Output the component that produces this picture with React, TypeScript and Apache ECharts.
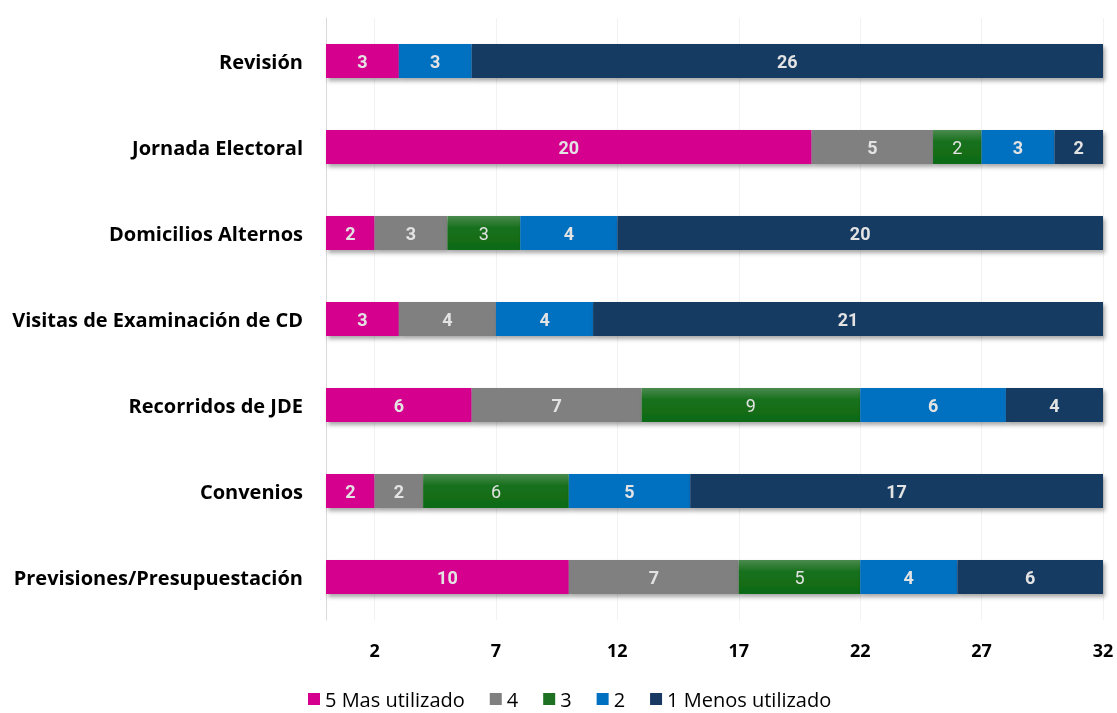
import React, { useEffect, useRef } from "react";
import * as echarts from "echarts";

const categories = [
  "Previsiones/Presupuestación",
  "Convenios",
  "Recorridos de JDE",
  "Visitas de Examinación de CD",
  "Domicilios Alternos",
  "Jornada Electoral",
  "Revisión",
];
const seriesNames = ["5 Mas utilizado", "4", "3", "2", "1 Menos utilizado"];
const s5 = [10, 2, 6, 3, 2, 20, 3];
const s4 = [7, 2, 7, 4, 3, 5, null];
const s3 = [5, 6, 9, null, 3, 2, null];
const s2 = [4, 5, 6, 4, 4, 3, 3];
const s1 = [6, 17, 4, 21, 20, 2, 26];
const tickValues = [2, 7, 12, 17, 22, 27, 32];

const colors = [
  "#D6008F",
  "#808080",
  new echarts.graphic.LinearGradient(0, 0, 0, 1, [
    { offset: 0, color: "#4A8A4E" },
    { offset: 0.35, color: "#17701C" },
    { offset: 1, color: "#0F6A14" },
  ]),
  "#0070C0",
  "#183A62",
];
const legendColors = ["#D6008F", "#808080", "#1E7022", "#0070C0", "#183A62"];

export default function App() {
  const ref = useRef<HTMLDivElement>(null);
  useEffect(() => {
    const chart = echarts.init(ref.current!, null, { renderer: "svg" });
    const data = [s5, s4, s3, s2, s1];
    const bars = data.map((d, i) => ({
      name: seriesNames[i],
      type: "bar",
      stack: "total",
      barWidth: 34,
      z: 3,
      data: d,
      itemStyle: {
        color: colors[i],
        shadowBlur: 4,
        shadowOffsetX: 2,
        shadowOffsetY: 3,
        shadowColor: "rgba(0,0,0,0.35)",
      },
      label: {
        show: true,
        position: "inside",
        color: "#E3E3E3",
        fontFamily: "Roboto",
        fontSize: 18,
        fontWeight: i === 2 ? "normal" : "bold",
      },
    }));
    chart.setOption({
      animation: false,
      grid: { left: 326, right: 14, top: 18, bottom: 93 },
      legend: {
        data: seriesNames.map((n, i) => ({ name: n, itemStyle: { color: legendColors[i] } })),
        left: 308,
        top: 689,
        padding: 0,
        icon: "rect",
        itemWidth: 12,
        itemHeight: 12,
        itemGap: 25,
        textStyle: { fontFamily: "Open Sans", fontSize: 20, lineHeight: 18, color: "#000" },
      },
      xAxis: {
        type: "value",
        min: 0,
        max: 32,
        axisLine: { show: false },
        axisTick: { show: false },
        splitLine: { show: false },
        axisLabel: {
          customValues: tickValues,
          margin: 21,
          color: "#000",
          fontFamily: "Open Sans",
          fontWeight: "bold",
          fontSize: 18,
        },
      },
      yAxis: {
        type: "category",
        data: categories,
        axisTick: { show: false },
        axisLine: { show: true, lineStyle: { color: "#D9D9D9" } },
        axisLabel: {
          margin: 23,
          color: "#000",
          fontFamily: "Open Sans",
          fontWeight: "bold",
          fontSize: 20,
        },
      },
      series: [
        ...bars,
        {
          name: "grid",
          type: "line",
          data: [],
          z: 1,
          silent: true,
          markLine: {
            z: 1,
            silent: true,
            symbol: "none",
            label: { show: false },
            lineStyle: { color: "#F2F2F2", type: "solid", width: 1 },
            data: tickValues.map((v) => ({ xAxis: v })),
          },
        },
      ],
    });
    return () => chart.dispose();
  }, []);
  return (
    <div
      ref={ref}
      style={{ position: "fixed", left: 0, top: 0, width: 1117, height: 713 }}
    />
  );
}
